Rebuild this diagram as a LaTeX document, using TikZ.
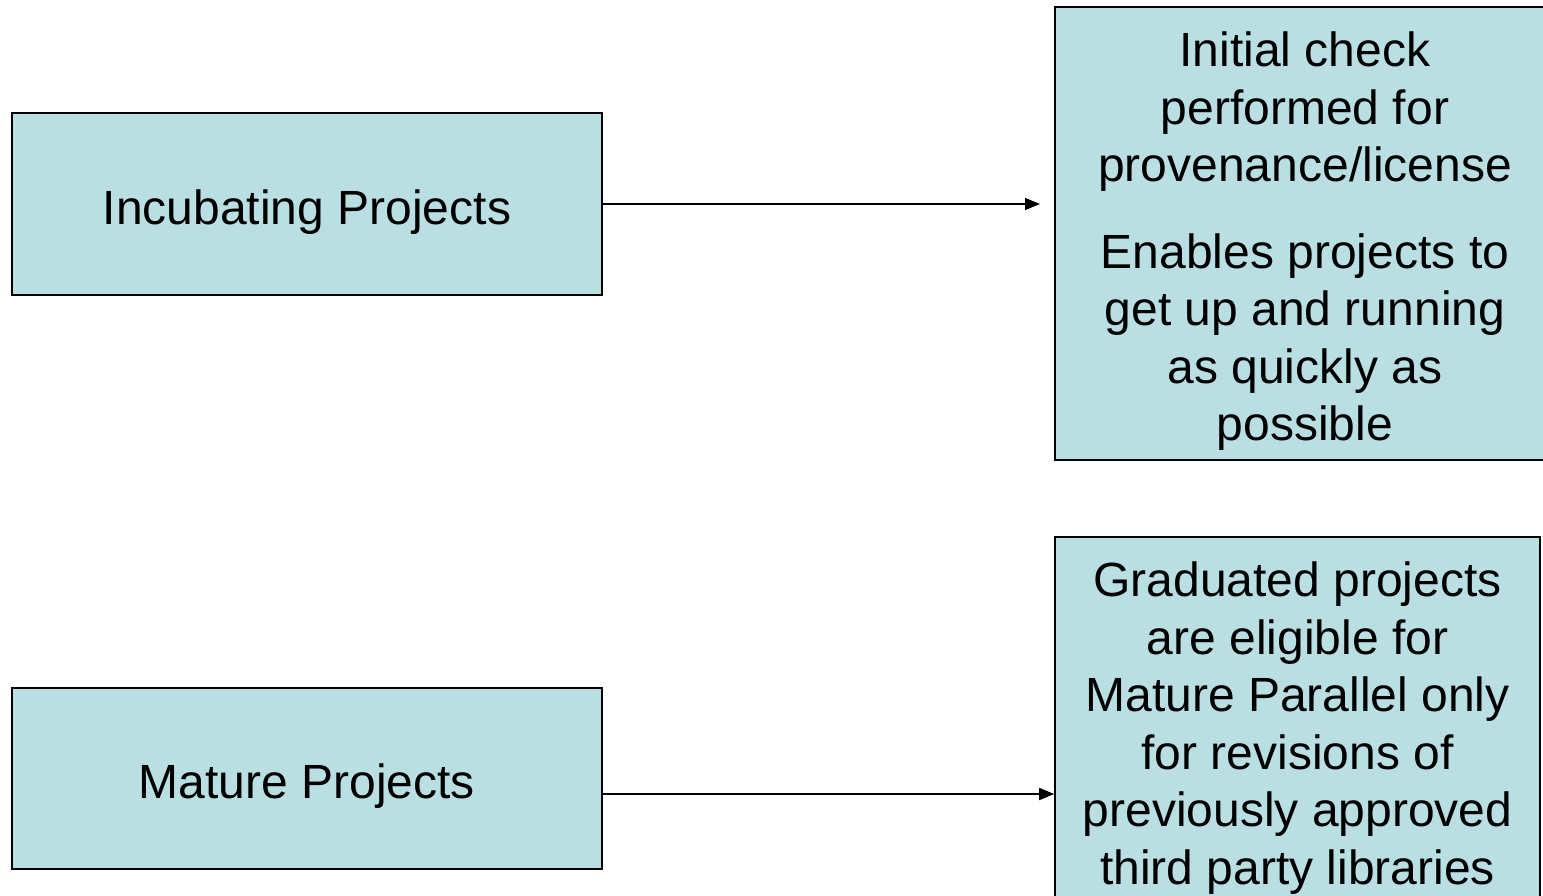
\documentclass[tikz,border=0pt]{standalone}
\usepackage{fontspec}
\setmainfont{Liberation Sans}
\usetikzlibrary{arrows.meta}
\definecolor{boxfill}{HTML}{B9DFE3}
\tikzset{
  box/.style={draw=black, line width=1.6pt, fill=boxfill, inner sep=0pt},
  txt/.style={inner sep=0pt, align=center, font=\fontsize{48}{57.5}\selectfont},
  arr/.style={line width=1.6pt, -{Triangle[length=15pt,width=12pt]}}
}
\begin{document}
\begin{tikzpicture}[x=1pt,y=-1pt]
\useasboundingbox (0,0) rectangle (1543,896);
\fill[white] (0,0) rectangle (1543,896);
\node[box, minimum width=590pt, minimum height=182pt] (inc) at (307,204) {};
\node[box, minimum width=590pt, minimum height=181pt] (mat) at (307,778.5) {};
\node[box, minimum width=492pt, minimum height=453pt] (chk) at (1301,233.5) {};
\node[box, minimum width=485pt, minimum height=382pt] (grad) at (1297.5,728) {};
\node[txt] (inct) at ([shift={(0,8)}]inc.center) {Incubating Projects};
\node[txt] (matt) at ([shift={(0,8)}]mat.center) {Mature Projects};
\node[txt] (chkt) at ([shift={(4,8)}]chk.center)
  {Initial check\\performed for\\provenance/license\\[29pt]Enables projects to\\get up and running\\as quickly as\\possible};
\node[txt] (gradt) at ([shift={(0,0)}]grad.center)
  {Graduated projects\\are eligible for\\Mature Parallel only\\for revisions of\\previously approved\\third party libraries};
\coordinate (e1) at (1040,204);
\draw[arr] (inc.east) -- (e1);
\draw[arr] ([yshift=-15.5pt]mat.east) -- (grad.west |- 0,794);
\end{tikzpicture}
\end{document}
